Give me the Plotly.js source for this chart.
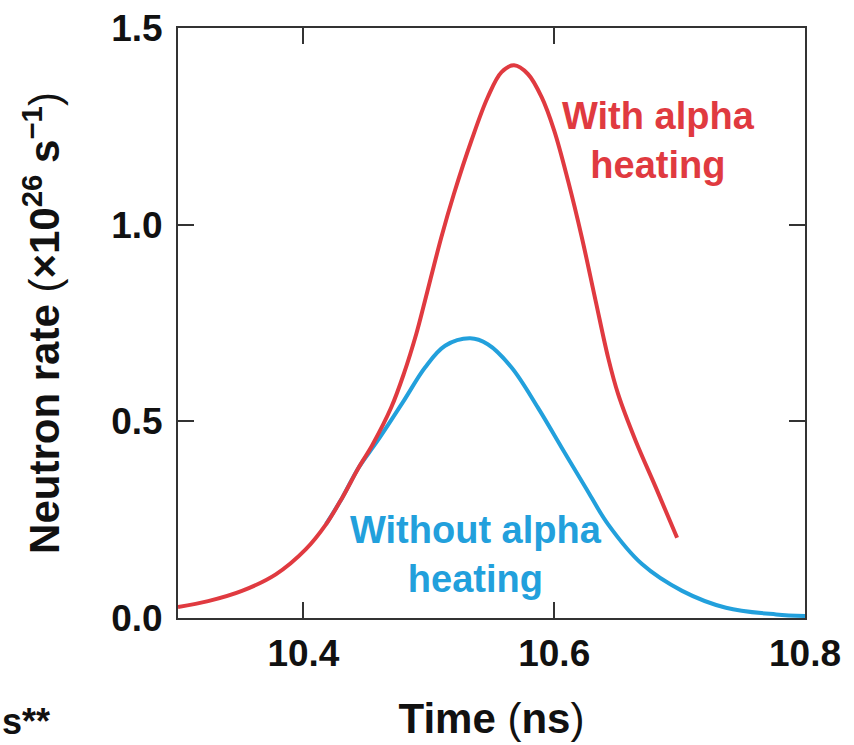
<!DOCTYPE html>
<html>
<head>
<meta charset="utf-8">
<script src="https://cdn.plot.ly/plotly-3.0.1.min.js"></script>
<style>html,body{margin:0;padding:0;background:#fff;}#chart{width:854px;height:745px;}</style>
</head>
<body>
<div id="chart"></div>
<script>
// Time (ns) and neutron rate (x10^26 s^-1)
const timeWith = [10.300, 10.324, 10.351, 10.378, 10.402, 10.418, 10.431, 10.444, 10.455, 10.470, 10.480, 10.490, 10.497, 10.510, 10.520, 10.534, 10.547, 10.558, 10.568, 10.579, 10.590, 10.600, 10.611, 10.622, 10.633, 10.643, 10.651, 10.665, 10.681, 10.698];
const rateWith = [0.028, 0.043, 0.069, 0.111, 0.175, 0.238, 0.306, 0.382, 0.440, 0.535, 0.620, 0.722, 0.807, 0.968, 1.078, 1.214, 1.324, 1.388, 1.405, 1.383, 1.324, 1.239, 1.112, 0.968, 0.807, 0.662, 0.569, 0.450, 0.332, 0.204];
const timeWithout = [10.418, 10.431, 10.444, 10.459, 10.480, 10.497, 10.513, 10.533, 10.547, 10.566, 10.587, 10.606, 10.625, 10.643, 10.670, 10.702, 10.737, 10.777, 10.800];
const rateWithout = [0.238, 0.306, 0.382, 0.450, 0.552, 0.637, 0.692, 0.711, 0.696, 0.637, 0.535, 0.433, 0.332, 0.238, 0.137, 0.069, 0.026, 0.009, 0.005];
const xTicks = [10.4, 10.6, 10.8];
const yTicks = [0.0, 0.5, 1.0, 1.5];
const yTickText = ['0.0', '0.5', '1.0', '1.5'];

const red = '#e03a40';
const blue = '#22a0dc';
const font = 'Liberation Sans, Arial, sans-serif';

const traces = [
  {x: timeWithout, y: rateWithout, mode: 'lines', line: {color: blue, width: 4, shape: 'spline', smoothing: 1}, hoverinfo: 'skip'},
  {x: timeWith, y: rateWith, mode: 'lines', line: {color: red, width: 4, shape: 'spline', smoothing: 1}, hoverinfo: 'skip'}
];

const axisCommon = {
  showgrid: false, zeroline: false, showline: true, linecolor: '#333', linewidth: 2,
  ticks: 'inside', ticklen: 16, tickwidth: 2, tickcolor: '#333', mirror: 'ticks',
  tickfont: {family: font, size: 37, color: '#111', weight: 'bold'}
};

const layout = {
  width: 854, height: 745,
  margin: {l: 178, r: 49, t: 28, b: 127},
  paper_bgcolor: '#fff', plot_bgcolor: '#fff',
  showlegend: false,
  font: {family: font},
  xaxis: Object.assign({}, axisCommon, {
    range: [10.3, 10.8], tickvals: xTicks, ticktext: xTicks.map(v => v.toFixed(1)),
    ticklabelstandoff: 2,
    title: {text: '<b>Time </b>(<b>ns</b>)', font: {family: font, size: 42, color: '#111'}, standoff: 30}
  }),
  yaxis: Object.assign({}, axisCommon, {
    range: [0, 1.5], tickvals: yTicks, ticktext: yTickText,
    ticklabelstandoff: 6,
    title: {text: '<b>Neutron rate </b>(<b>×10<sup>26</sup> s<sup>−1</sup></b>)', font: {family: font, size: 42, color: '#111'}, standoff: 38}
  }),
  annotations: [
    {x: 10.683, y: 1.215, xref: 'x', yref: 'y', text: '<b>With alpha<br>heating</b>', showarrow: false,
     font: {family: font, size: 38, color: red}, align: 'center'},
    {x: 10.538, y: 0.162, xref: 'x', yref: 'y', text: '<b>Without alpha<br>heating</b>', showarrow: false,
     font: {family: font, size: 38, color: blue}, align: 'center'},
    {x: -178/627, y: -(722-618)/590, xref: 'paper', yref: 'paper', xanchor: 'left', yanchor: 'middle',
     text: '<b>s**</b>', showarrow: false, font: {family: font, size: 36, color: '#111'}}
  ]
};

Plotly.newPlot('chart', traces, layout, {displayModeBar: false, staticPlot: true});
</script>
</body>
</html>
